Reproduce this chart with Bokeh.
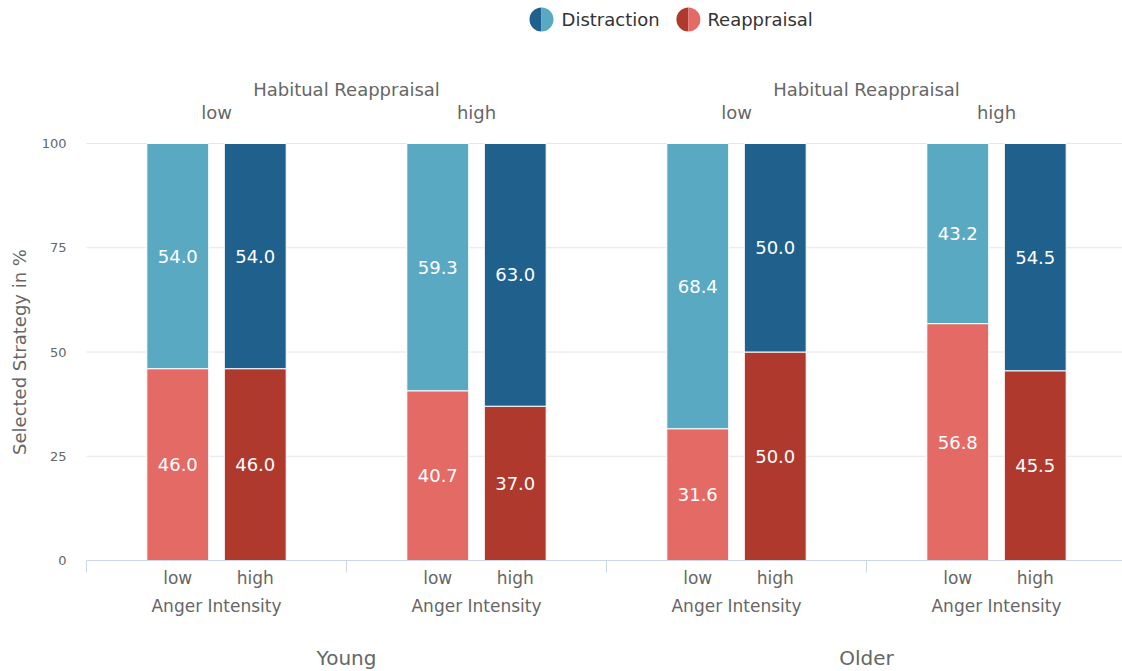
from bokeh.plotting import figure
from bokeh.models import ColumnDataSource, Range1d
from bokeh.core.properties import value
from bokeh.embed import file_html
from bokeh.resources import INLINE
import math

# ---- data ----
age_groups = ["Young", "Older"]
hr_levels = ["low", "high"]
anger_levels = ["low", "high"]
distraction = [54.0, 54.0, 59.3, 63.0, 68.4, 50.0, 43.2, 54.5]
reappraisal = [46.0, 46.0, 40.7, 37.0, 31.6, 50.0, 56.8, 45.5]
y_ticks = [0, 25, 50, 75, 100]
series_names = ["Distraction", "Reappraisal"]

FONT = "DejaVu Sans"
GREY = "#666666"
LIGHT_BLUE, DARK_BLUE = "#5aa9c2", "#1f608c"
LIGHT_RED, DARK_RED = "#e46a66", "#b0392e"

# ---- geometry in data units ----
W, H = 1122, 671
x_start, x_end = -86 / 260, (W - 86) / 260
y_start, y_end = -(H - 560) / 4.17, 100 + 143 / 4.17
off = 0.149
bw = 0.238

xs, dcol, rcol, anger_lab = [], [], [], []
gi = 0
for a in age_groups:
    for h in hr_levels:
        for k, an in enumerate(anger_levels):
            xs.append(gi + 0.5 + (-off if k == 0 else off))
            dcol.append(LIGHT_BLUE if k == 0 else DARK_BLUE)
            rcol.append(LIGHT_RED if k == 0 else DARK_RED)
            anger_lab.append(an)
        gi += 1

src = ColumnDataSource(dict(
    x=xs, d=distraction, r=reappraisal, top=[100.0] * len(xs),
    zero=[0.0] * len(xs), dcol=dcol, rcol=rcol,
    rmid=[v / 2 for v in reappraisal],
    dmid=[r + d / 2 for r, d in zip(reappraisal, distraction)],
    dlab=["%.1f" % v for v in distraction],
    rlab=["%.1f" % v for v in reappraisal],
    anger=anger_lab,
    ylow=[-4.1] * len(xs),
))

p = figure(width=W, height=H, output_backend="svg", toolbar_location=None,
           x_range=Range1d(x_start, x_end), y_range=Range1d(y_start, y_end),
           min_border=0, min_border_left=0, min_border_right=0,
           min_border_top=0, min_border_bottom=0)
p.axis.visible = False
p.grid.visible = False
p.outline_line_color = None
p.background_fill_color = "white"

# gridlines
gy = [t for t in y_ticks if t > 0]
p.segment(x0=[0] * len(gy), x1=[x_end] * len(gy), y0=gy, y1=gy,
          line_color="#e6e6e6", line_width=1)

# bars
p.vbar(x="x", width=bw, bottom="zero", top="r", fill_color="rcol",
       line_color="white", line_width=1, source=src)
p.vbar(x="x", width=bw, bottom="r", top="top", fill_color="dcol",
       line_color="white", line_width=1, source=src)

# value labels
for col, ycol in (("dlab", "dmid"), ("rlab", "rmid")):
    p.text(x="x", y=ycol, text=col, source=src, text_color="white",
           text_font=value(FONT), text_font_size="18px",
           text_align="center", text_baseline="middle")

# x axis line and ticks
p.segment(x0=[0], x1=[x_end], y0=[0], y1=[0], line_color="#ccd6eb", line_width=1)
bnd = [0, 1, 2, 3]
p.segment(x0=bnd, x1=bnd, y0=[0] * 4, y1=[-2.9] * 4, line_color="#ccd6eb", line_width=1)

# y tick labels
p.text(x=[-0.077] * len(y_ticks), y=y_ticks, text=[str(t) for t in y_ticks],
       text_color=GREY, text_font=value(FONT), text_font_size="13px",
       text_align="right", text_baseline="middle")
# y axis title
p.text(x=[-0.258], y=[50], text=["Selected Strategy in %"], angle=math.pi / 2,
       text_color=GREY, text_font=value(FONT), text_font_size="18px",
       text_align="center", text_baseline="middle")

# bottom labels
p.text(x="x", y="ylow", text="anger", source=src, text_color=GREY,
       text_font=value(FONT), text_font_size="17px",
       text_align="center", text_baseline="middle")
gx = [0.5, 1.5, 2.5, 3.5]
p.text(x=gx, y=[-11.0] * 4, text=["Anger Intensity"] * 4, text_color=GREY,
       text_font=value(FONT), text_font_size="17px",
       text_align="center", text_baseline="middle")
p.text(x=[1.0, 3.0], y=[-23.3] * 2, text=age_groups, text_color=GREY,
       text_font=value(FONT), text_font_size="20px",
       text_align="center", text_baseline="middle")

# top labels
p.text(x=[1.0, 3.0], y=[112.95] * 2, text=["Habitual Reappraisal"] * 2, text_color=GREY,
       text_font=value(FONT), text_font_size="18px",
       text_align="center", text_baseline="middle")
p.text(x=gx, y=[107.4] * 4, text=hr_levels * 2, text_color=GREY,
       text_font=value(FONT), text_font_size="18px",
       text_align="center", text_baseline="middle")

# legend (split circles)
lx = [1.75, 2.315]
ly = 129.74
p.wedge(x=lx, y=[ly] * 2, radius=12, radius_units="screen",
        start_angle=math.pi / 2, end_angle=3 * math.pi / 2,
        fill_color=[DARK_BLUE, DARK_RED], line_color=None)
p.wedge(x=lx, y=[ly] * 2, radius=12, radius_units="screen",
        start_angle=-math.pi / 2, end_angle=math.pi / 2,
        fill_color=[LIGHT_BLUE, LIGHT_RED], line_color=None)
p.text(x=[1.827, 2.388], y=[ly] * 2, text=series_names, text_color="#333333",
       text_font=value(FONT), text_font_size="18px",
       text_align="left", text_baseline="middle")

open("out.html", "w").write(file_html(p, INLINE))
